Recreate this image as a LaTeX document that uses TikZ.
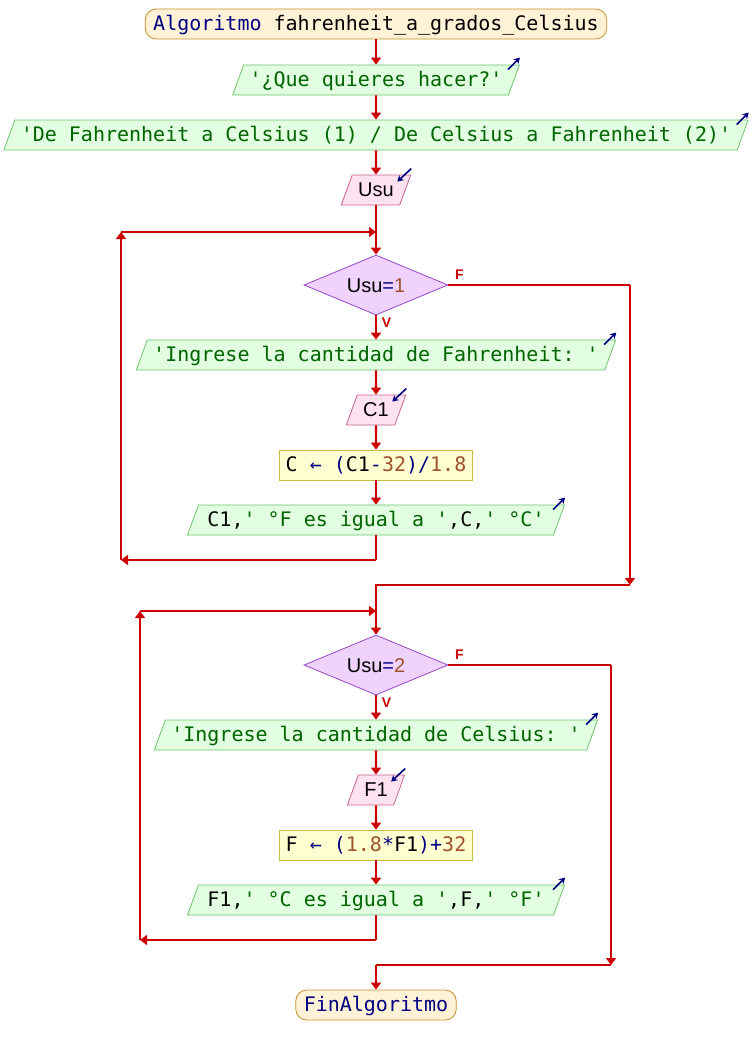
\documentclass[tikz,border=0pt]{standalone}
\usepackage{fontspec}
\setmainfont{Liberation Sans}
\setsansfont{Liberation Sans}
\setmonofont{DejaVu Sans Mono}
\usepackage{xcolor}
\usetikzlibrary{arrows.meta,shapes.geometric}
\definecolor{flujo}{HTML}{CC0000}
\definecolor{azulpse}{HTML}{000080}
\definecolor{verdetxt}{HTML}{006400}
\definecolor{numtxt}{HTML}{A0522D}
\definecolor{termfill}{HTML}{FFF2D6}
\definecolor{termline}{HTML}{C8902A}
\definecolor{salfill}{HTML}{E2FFE2}
\definecolor{salline}{HTML}{6CC46C}
\definecolor{entfill}{HTML}{FFE2F0}
\definecolor{entline}{HTML}{C8648C}
\definecolor{asigfill}{HTML}{FFFFD2}
\definecolor{asigline}{HTML}{C8BE3C}
\definecolor{decfill}{HTML}{F0D2FF}
\definecolor{decline}{HTML}{9646C8}
\newcommand{\pkw}[1]{\textcolor{azulpse}{#1}}
\newcommand{\pstr}[1]{\textcolor{verdetxt}{#1}}
\newcommand{\pnum}[1]{\textcolor{numtxt}{#1}}
\tikzset{
  psebase/.style={draw, line width=0.8pt, font=\fontsize{20}{24}\selectfont\ttfamily, text height=21.5pt, text depth=8.5pt, inner ysep=0pt, inner xsep=6pt},
  pseterm/.style={psebase, fill=termfill, draw=termline, rounded corners=11pt, inner xsep=8pt},
  pseout/.style={psebase, trapezium, trapezium left angle=70, trapezium right angle=110, fill=salfill, draw=salline},
  psein/.style={pseout, fill=entfill, draw=entline, font=\fontsize{20}{24}\selectfont\sffamily},
  pseasig/.style={psebase, fill=asigfill, draw=asigline},
  psedec/.style={diamond, aspect=2.4, draw=decline, fill=decfill, line width=0.8pt, minimum width=144pt, minimum height=60pt, inner sep=0pt, text height=15pt, text depth=0pt, font=\fontsize{20}{24}\selectfont\sffamily},
  psearrow/.style={-{Triangle[length=7pt,width=10pt]}, line width=2.2pt, flujo},
  pseline/.style={line width=2.2pt, flujo},
  pselabel/.style={font=\fontsize{14}{16}\selectfont\sffamily\bfseries, text=flujo, inner sep=1pt},
  outicon/.style={-{Stealth[length=6pt,width=7pt]}, line width=1.6pt, azulpse}
}
\begin{document}
\begin{tikzpicture}[x=1pt, y=-1pt]
  \useasboundingbox (0,0) rectangle (752,1055);
  \node[pseterm] (inicio) at (376,24) {\pkw{Algoritmo} fahrenheit\_a\_grados\_Celsius};
  \node[pseout] (pregunta) at (376,80) {\pstr{'¿Que quieres hacer?'}};
  \node[pseout] (opciones) at (376,135) {\pstr{'De Fahrenheit a Celsius (1) / De Celsius a Fahrenheit (2)'}};
  \node[psein] (usu) at (376,190) {Usu};
  \node[psedec] (mientras1) at (376,285) {Usu\pkw{=}\pnum{1}};
  \node[pseout] (pideF) at (376,355) {\pstr{'Ingrese la cantidad de Fahrenheit: '}};
  \node[psein] (leeC1) at (376,410) {C1};
  \node[pseasig] (calcC) at (376,465) {C \pkw{←} \pkw{(}C1\pkw{-}\pnum{32}\pkw{)/}\pnum{1.8}};
  \node[pseout, inner xsep=9pt] (muestraC) at (376,520) {C1,\pstr{' °F es igual a '},C,\pstr{' °C'}};
  \node[psedec] (mientras2) at (376,665) {Usu\pkw{=}\pnum{2}};
  \node[pseout] (pideC) at (376,735) {\pstr{'Ingrese la cantidad de Celsius: '}};
  \node[psein] (leeF1) at (376,790) {F1};
  \node[pseasig] (calcF) at (376,845) {F \pkw{←} \pkw{(}\pnum{1.8}\pkw{*}F1\pkw{)+}\pnum{32}};
  \node[pseout, inner xsep=9pt] (muestraF) at (376,900) {F1,\pstr{' °C es igual a '},F,\pstr{' °F'}};
  \node[pseterm] (fin) at (376,1005) {\pkw{FinAlgoritmo}};

  % esquinas de los ciclos
  \coordinate (j1) at (376,232);
  \coordinate (b1) at (376,560);
  \coordinate (c1) at (121,560);
  \coordinate (d1) at (121,232);
  \coordinate (e1) at (630,285);
  \coordinate (f1) at (630,585);
  \coordinate (g1) at (376,585);
  \coordinate (j2) at (376,611);
  \coordinate (b2) at (376,940);
  \coordinate (c2) at (140,940);
  \coordinate (d2) at (140,611);
  \coordinate (e2) at (611,665);
  \coordinate (f2) at (611,965);
  \coordinate (g2) at (376,965);

  \draw[psearrow] (inicio) -- (pregunta);
  \draw[psearrow] (pregunta) -- (opciones);
  \draw[psearrow] (opciones) -- (usu);
  \draw[pseline] (usu) -- (j1);
  \draw[psearrow] (j1) -- (mientras1);
  \draw[psearrow] (mientras1) -- (pideF);
  \draw[psearrow] (pideF) -- (leeC1);
  \draw[psearrow] (leeC1) -- (calcC);
  \draw[psearrow] (calcC) -- (muestraC);
  \draw[pseline] (muestraC) -- (b1);
  \draw[psearrow] (b1) -- (c1);
  \draw[psearrow] (c1) -- (d1);
  \draw[psearrow] (d1) -- (j1);
  \draw[pseline] (mientras1.east) -- (e1);
  \draw[psearrow] (e1) -- (f1);
  \draw[pseline] (f1) -- (g1) -- (j2);
  \draw[psearrow] (j2) -- (mientras2);
  \draw[psearrow] (mientras2) -- (pideC);
  \draw[psearrow] (pideC) -- (leeF1);
  \draw[psearrow] (leeF1) -- (calcF);
  \draw[psearrow] (calcF) -- (muestraF);
  \draw[pseline] (muestraF) -- (b2);
  \draw[psearrow] (b2) -- (c2);
  \draw[psearrow] (c2) -- (d2);
  \draw[psearrow] (d2) -- (j2);
  \draw[pseline] (mientras2.east) -- (e2);
  \draw[psearrow] (e2) -- (f2);
  \draw[pseline] (f2) -- (g2);
  \draw[psearrow] (g2) -- (fin);

  \node[pselabel] (falso1) at ([xshift=11pt,yshift=10pt]mientras1.east) {F};
  \node[pselabel] (verd1) at ([xshift=10.5pt,yshift=-7pt]mientras1.south) {V};
  \node[pselabel] (falso2) at ([xshift=11pt,yshift=10pt]mientras2.east) {F};
  \node[pselabel] (verd2) at ([xshift=10.5pt,yshift=-7pt]mientras2.south) {V};

  % iconos de entrada / salida
  \foreach \n in {pregunta,opciones,pideF,muestraC,pideC,muestraF}
    \draw[outicon] ([shift={(-12,5)}]\n.top right corner) -- ([shift={(0,-7)}]\n.top right corner);
  \foreach \n in {usu,leeC1,leeF1}
    \draw[outicon] ([shift={(0,-6)}]\n.top right corner) -- ([shift={(-14,7)}]\n.top right corner);
\end{tikzpicture}
\end{document}
